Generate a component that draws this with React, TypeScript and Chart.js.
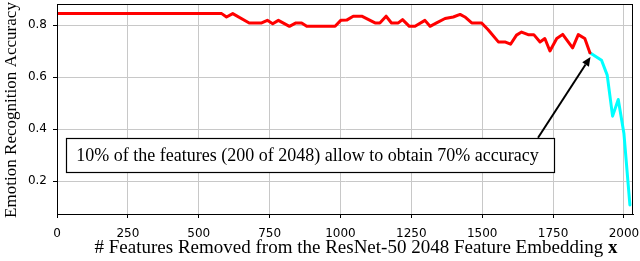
import React, { useEffect, useRef } from 'react';
import { Chart, registerables } from 'chart.js';

Chart.register(...registerables);

// ---- data ----
const redX = [0, 581, 598, 620, 678, 722, 742, 761, 781, 820, 843, 863, 881, 981, 1001, 1022, 1045, 1075, 1122, 1139, 1161, 1180, 1204, 1219, 1243, 1263, 1298, 1316, 1339, 1369, 1398, 1422, 1439, 1463, 1498, 1521, 1557, 1580, 1600, 1621, 1639, 1662, 1682, 1704, 1721, 1739, 1763, 1784, 1819, 1839, 1862, 1880];
const redY = [0.845, 0.845, 0.832, 0.845, 0.809, 0.809, 0.819, 0.806, 0.819, 0.796, 0.809, 0.809, 0.796, 0.796, 0.819, 0.820, 0.835, 0.835, 0.809, 0.809, 0.835, 0.809, 0.809, 0.822, 0.796, 0.796, 0.819, 0.796, 0.809, 0.826, 0.832, 0.842, 0.832, 0.809, 0.809, 0.783, 0.736, 0.736, 0.727, 0.762, 0.774, 0.764, 0.764, 0.736, 0.749, 0.701, 0.749, 0.765, 0.713, 0.764, 0.749, 0.694];
const cyanX = [1880, 1921, 1941, 1960, 1980, 2000, 2021];
const cyanY = [0.694, 0.665, 0.608, 0.450, 0.514, 0.383, 0.108];

const xTickValues = [0, 250, 500, 750, 1000, 1250, 1500, 1750, 2000];
const yTickValues = [0.2, 0.4, 0.6, 0.8];

const xTitle = '# Features Removed from the ResNet-50 2048 Feature Embedding ';
const xTitleBold = 'x';
const yTitle = 'Emotion Recognition Accuracy';
const noteText = '10% of the features (200 of 2048) allow to obtain 70% accuracy';

// annotation anchors in data units
const noteBox = { x0: 32, x1: 1753, yTop: 0.365, yBottom: 0.235 };
const arrowFrom = { x: 1697, y: 0.367 };
const arrowTo = { x: 1882, y: 0.678 };

const X_MIN = 0;
const X_MAX = 2032;
const Y_MIN = 0.073;
const Y_MAX = 0.882;

const serif = '"Liberation Serif", "Times New Roman", serif';
const sans = '"DejaVu Sans", sans-serif';

const overlayPlugin = {
  id: 'overlay',
  afterDraw(chart: any) {
    const { ctx, chartArea, scales } = chart;
    const xs = scales.x;
    const ys = scales.y;
    ctx.save();
    // frame
    ctx.strokeStyle = '#000';
    ctx.lineWidth = 1;
    ctx.strokeRect(Math.round(chartArea.left) + 0.5, Math.round(chartArea.top) + 0.5,
      Math.round(chartArea.right - chartArea.left) - 1, Math.round(chartArea.bottom - chartArea.top));

    // annotation box
    const bx0 = Math.round(xs.getPixelForValue(noteBox.x0)) + 0.5;
    const bx1 = Math.round(xs.getPixelForValue(noteBox.x1)) + 0.5;
    const by0 = Math.round(ys.getPixelForValue(noteBox.yTop)) + 0.5;
    const by1 = Math.round(ys.getPixelForValue(noteBox.yBottom)) + 0.5;
    ctx.fillStyle = '#fff';
    ctx.fillRect(bx0, by0, bx1 - bx0, by1 - by0);
    ctx.strokeStyle = '#000';
    ctx.lineWidth = 1.2;
    ctx.strokeRect(bx0, by0, bx1 - bx0, by1 - by0);
    ctx.fillStyle = '#000';
    ctx.font = `18px ${serif}`;
    ctx.textAlign = 'center';
    ctx.textBaseline = 'middle';
    ctx.fillText(noteText, (bx0 + bx1) / 2 - 3, (by0 + by1) / 2 + 1);

    // arrow
    const ax0 = xs.getPixelForValue(arrowFrom.x);
    const ay0 = ys.getPixelForValue(arrowFrom.y);
    const ax1 = xs.getPixelForValue(arrowTo.x);
    const ay1 = ys.getPixelForValue(arrowTo.y);
    const ang = Math.atan2(ay1 - ay0, ax1 - ax0);
    const headLen = 9;
    const headW = 4;
    const bxh = ax1 - headLen * Math.cos(ang);
    const byh = ay1 - headLen * Math.sin(ang);
    ctx.strokeStyle = '#000';
    ctx.lineWidth = 2;
    ctx.beginPath();
    ctx.moveTo(ax0, ay0);
    ctx.lineTo(bxh, byh);
    ctx.stroke();
    ctx.beginPath();
    ctx.moveTo(ax1, ay1);
    ctx.lineTo(bxh + headW * Math.sin(ang), byh - headW * Math.cos(ang));
    ctx.lineTo(bxh - headW * Math.sin(ang), byh + headW * Math.cos(ang));
    ctx.closePath();
    ctx.fillStyle = '#000';
    ctx.fill();

    // x title
    ctx.font = `19px ${serif}`;
    const w1 = ctx.measureText(xTitle).width;
    ctx.font = `bold 19px ${serif}`;
    const w2 = ctx.measureText(xTitleBold).width;
    const cx = (chartArea.left + chartArea.right) / 2 + 11;
    const startX = cx - (w1 + w2) / 2;
    ctx.textAlign = 'left';
    ctx.textBaseline = 'alphabetic';
    ctx.font = `19px ${serif}`;
    ctx.fillText(xTitle, startX, 252.5);
    ctx.font = `bold 19px ${serif}`;
    ctx.fillText(xTitleBold, startX + w1, 252.5);

    // y title (fit to the plot height span of the reference)
    ctx.font = `20px ${serif}`;
    const yw = ctx.measureText(yTitle).width;
    const ySize = 20 * 216 / yw;
    ctx.translate(15.5, (chartArea.top + chartArea.bottom) / 2 + 1);
    ctx.rotate(-Math.PI / 2);
    ctx.font = `${ySize.toFixed(2)}px ${serif}`;
    ctx.textAlign = 'center';
    ctx.textBaseline = 'alphabetic';
    ctx.fillText(yTitle, 0, 0);
    ctx.restore();
  },
};

export default function App() {
  const canvasRef = useRef<HTMLCanvasElement | null>(null);

  useEffect(() => {
    const canvas = canvasRef.current;
    if (!canvas) return;
    const red = redX.map((x, i) => ({ x, y: redY[i] }));
    const cyan = cyanX.map((x, i) => ({ x, y: cyanY[i] }));
    const chart = new Chart(canvas, {
      type: 'line',
      data: {
        datasets: [
          { data: red, borderColor: '#ff0000', borderWidth: 3, pointRadius: 0, tension: 0, fill: false, borderJoinStyle: 'round', borderCapStyle: 'round' },
          { data: cyan, borderColor: '#00ffff', borderWidth: 3, pointRadius: 0, tension: 0, fill: false, borderJoinStyle: 'round', borderCapStyle: 'round' },
        ],
      },
      options: {
        responsive: false,
        animation: false,
        events: [],
        layout: { padding: { top: 4, right: 7, left: 0, bottom: 0 } },
        plugins: { legend: { display: false }, tooltip: { enabled: false }, title: { display: false } },
        scales: {
          x: {
            type: 'linear',
            min: X_MIN,
            max: X_MAX,
            afterFit: (s: any) => { s.height = 47; s.paddingLeft = 0; s.paddingRight = 0; },
            afterBuildTicks: (s: any) => { s.ticks = xTickValues.map((v) => ({ value: v })); },
            ticks: {
              color: '#000',
              font: { family: sans, size: 12 },
              padding: 9,
              maxRotation: 0,
              autoSkip: false,
              callback: (v: any) => String(v),
            },
            grid: { color: '#c8c8c8', lineWidth: 1, drawTicks: true, tickLength: 4, tickColor: '#000' },
            border: { display: true, color: '#000', width: 1 },
          },
          y: {
            type: 'linear',
            min: Y_MIN,
            max: Y_MAX,
            afterFit: (s: any) => { s.width = 57; s.paddingTop = 0; s.paddingBottom = 0; },
            afterBuildTicks: (s: any) => { s.ticks = yTickValues.map((v) => ({ value: v })); },
            ticks: {
              color: '#000',
              font: { family: sans, size: 12 },
              padding: 6,
              autoSkip: false,
              callback: (v: any) => Number(v).toFixed(1),
            },
            grid: { color: '#c8c8c8', lineWidth: 1, drawTicks: true, tickLength: 4, tickColor: '#000' },
            border: { display: true, color: '#000', width: 1 },
          },
        },
      },
      plugins: [overlayPlugin],
    });
    return () => chart.destroy();
  }, []);

  return (
    <div style={{ position: 'absolute', left: 0, top: 0, width: 640, height: 261, background: '#fff' }}>
      <canvas ref={canvasRef} width={640} height={261} style={{ display: 'block', width: 640, height: 261 }} />
    </div>
  );
}
